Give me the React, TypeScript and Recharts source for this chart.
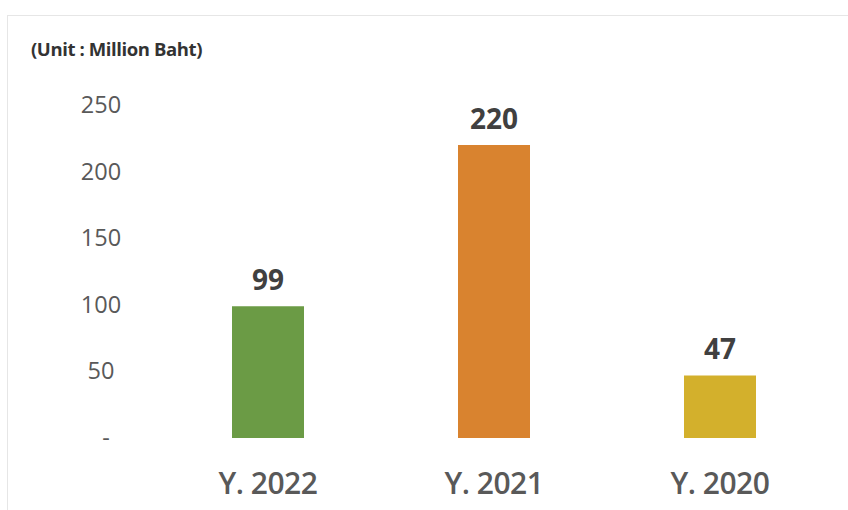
import React from "react";
import { BarChart, Bar, XAxis, YAxis, Cell, LabelList } from "recharts";

const categories = ["Y. 2022", "Y. 2021", "Y. 2020"];
const values = [99, 220, 47];
const colors = ["#6B9B45", "#D9832F", "#D3B02C"];
const yTicks = [0, 50, 100, 150, 200, 250];

const data = categories.map((c, i) => ({ name: c, value: values[i] }));

const FONT = "'Open Sans', 'Liberation Sans', sans-serif";

const YTick = (props: any) => {
  const { y, payload } = props;
  const isZero = payload.value === 0;
  const label = isZero ? "-" : String(payload.value);
  return (
    <text x={isZero ? 106 : 101} y={y} dy={8} textAnchor="middle" fill="#595959" fontSize={23.5} fontFamily={FONT}>
      {label}
    </text>
  );
};

const XTick = (props: any) => {
  const { x, y, payload } = props;
  return (
    <text
      x={x}
      y={y}
      dy={48}
      textAnchor="middle"
      fill="#595959"
      fontSize={30}
      fontWeight={600}
      letterSpacing={-0.5}
      fontFamily={FONT}
    >
      {payload.value}
    </text>
  );
};

export default function App() {
  return (
    <div style={{ position: "absolute", left: 0, top: 0, width: 848, height: 510, background: "#fff" }}>
      <div
        style={{
          position: "absolute",
          left: 7,
          top: 15,
          width: 841,
          height: 495,
          borderLeft: "1px solid #e6e6e6",
          borderTop: "1px solid #e6e6e6",
        }}
      />
      <div
        style={{
          position: "absolute",
          left: 31,
          top: 36,
          fontFamily: FONT,
          fontWeight: 700,
          fontSize: 18.5,
          color: "#333",
          letterSpacing: -0.4,
          whiteSpace: "nowrap",
        }}
      >
        (Unit : Million Baht)
      </div>
      <BarChart
        width={848}
        height={510}
        data={data}
        margin={{ top: 105, right: 15, bottom: 0, left: 0 }}
        barCategoryGap={77}
      >
        <XAxis dataKey="name" axisLine={false} tickLine={false} tick={<XTick />} height={72} interval={0} />
        <YAxis
          domain={[0, 250]}
          ticks={yTicks}
          width={155}
          axisLine={false}
          tickLine={false}
          tick={<YTick />}
          interval={0}
        />
        <Bar dataKey="value" isAnimationActive={false}>
          {data.map((d, i) => (
            <Cell key={d.name} fill={colors[i]} />
          ))}
          <LabelList
            dataKey="value"
            position="top"
            offset={16}
            fill="#404040"
            fontSize={28}
            fontWeight={700}
            fontFamily={FONT}
          />
        </Bar>
      </BarChart>
    </div>
  );
}
